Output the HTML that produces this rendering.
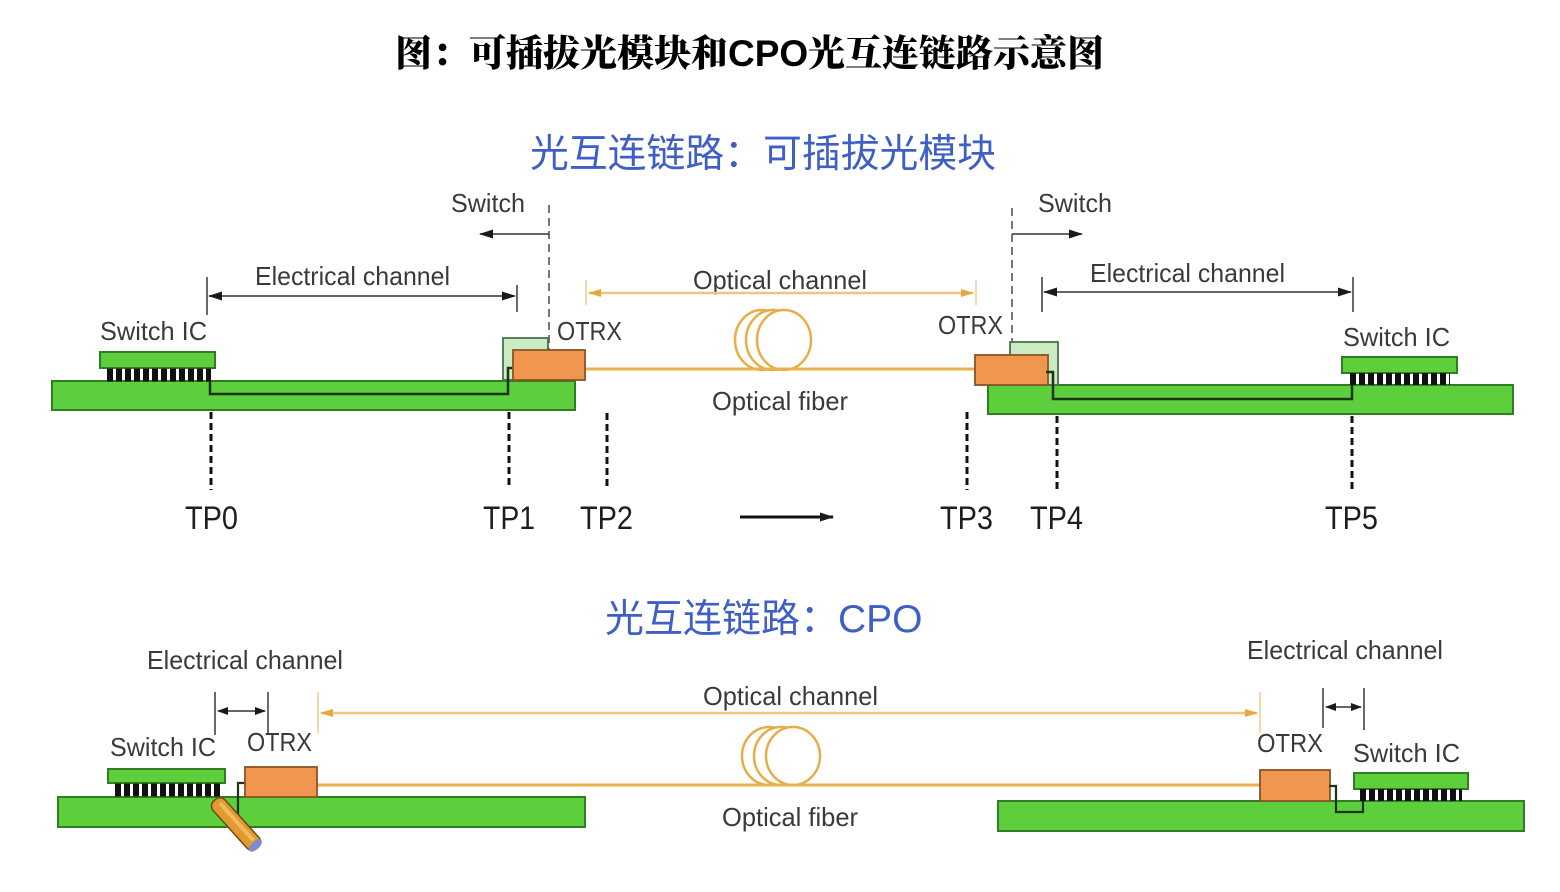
<!DOCTYPE html>
<html><head><meta charset="utf-8">
<style>
html,body{margin:0;padding:0;background:#fff;}
svg{display:block;}
.lbl{font-family:"Liberation Sans",Arial,sans-serif;fill:#3a3a3a;font-size:26px;}
.tp{font-family:"Liberation Sans",Arial,sans-serif;fill:#1e1e1e;font-size:32px;}
.cn{font-family:"Liberation Sans","Noto Sans CJK SC",sans-serif;fill:#3f5fc6;font-size:39px;}
.ttl{font-family:"Liberation Serif","Noto Serif CJK SC",serif;font-weight:900;fill:#000;font-size:37px;}
.ttlc{font-family:"Liberation Sans",sans-serif;font-weight:bold;fill:#000;font-size:37px;}
</style></head>
<body>
<svg width="1560" height="892" viewBox="0 0 1560 892" xmlns="http://www.w3.org/2000/svg">
<defs>
<marker id="ab" markerWidth="14" markerHeight="10" refX="13" refY="5" orient="auto-start-reverse" markerUnits="userSpaceOnUse"><path d="M0,0.5 L14,5 L0,9.5 z" fill="#1a1a1a"/></marker>
<marker id="abs" markerWidth="11" markerHeight="9" refX="10" refY="4.5" orient="auto-start-reverse" markerUnits="userSpaceOnUse"><path d="M0,0.5 L11,4.5 L0,8.5 z" fill="#1a1a1a"/></marker>
<marker id="ao" markerWidth="13" markerHeight="10" refX="12" refY="5" orient="auto-start-reverse" markerUnits="userSpaceOnUse"><path d="M0,1 L13,5 L0,9 z" fill="#eaa83a"/></marker>
</defs>

<!-- Main title -->
<text y="66"><tspan class="ttl" x="395">图：可插拔光模块和</tspan><tspan class="ttlc" x="728">CPO</tspan><tspan class="ttl" x="808">光互连链路示意图</tspan></text>

<!-- Subtitle 1 -->
<text class="cn" x="530" y="167" textLength="466" lengthAdjust="spacingAndGlyphs">光互连链路：可插拔光模块</text>

<!-- ===== TOP DIAGRAM ===== -->
<!-- Switch labels / arrows -->
<text class="lbl" x="451" y="212" textLength="74" lengthAdjust="spacingAndGlyphs">Switch</text>
<text class="lbl" x="1038" y="212" textLength="74" lengthAdjust="spacingAndGlyphs">Switch</text>
<line x1="549" y1="205" x2="549" y2="350" stroke="#555" stroke-width="1.6" stroke-dasharray="8 5"/>
<line x1="1012" y1="208" x2="1012" y2="342" stroke="#555" stroke-width="1.6" stroke-dasharray="8 5"/>
<line x1="549" y1="234" x2="480" y2="234" stroke="#333" stroke-width="1.6" marker-end="url(#ab)"/>
<line x1="1012" y1="234" x2="1082" y2="234" stroke="#333" stroke-width="1.6" marker-end="url(#ab)"/>

<!-- Electrical channel top-left -->
<text class="lbl" x="255" y="285" textLength="195" lengthAdjust="spacingAndGlyphs">Electrical channel</text>
<line x1="207" y1="277" x2="207" y2="315" stroke="#444" stroke-width="1.6"/>
<line x1="517" y1="285" x2="517" y2="312" stroke="#444" stroke-width="1.6"/>
<line x1="209" y1="296" x2="515" y2="296" stroke="#333" stroke-width="1.6" marker-start="url(#ab)" marker-end="url(#ab)"/>

<!-- Electrical channel top-right -->
<text class="lbl" x="1090" y="282" textLength="195" lengthAdjust="spacingAndGlyphs">Electrical channel</text>
<line x1="1042" y1="277" x2="1042" y2="312" stroke="#444" stroke-width="1.6"/>
<line x1="1353" y1="277" x2="1353" y2="312" stroke="#444" stroke-width="1.6"/>
<line x1="1044" y1="292" x2="1351" y2="292" stroke="#333" stroke-width="1.6" marker-start="url(#ab)" marker-end="url(#ab)"/>

<!-- Optical channel top -->
<text class="lbl" x="693" y="289" textLength="174" lengthAdjust="spacingAndGlyphs">Optical channel</text>
<line x1="586" y1="280" x2="586" y2="305" stroke="#f3cf95" stroke-width="1.6"/>
<line x1="976" y1="280" x2="976" y2="305" stroke="#f3cf95" stroke-width="1.6"/>
<line x1="589" y1="293" x2="973" y2="293" stroke="#f2c47a" stroke-width="2.5" marker-start="url(#ao)" marker-end="url(#ao)"/>

<!-- Coil top -->
<ellipse cx="762" cy="340" rx="27" ry="30" fill="#fff" stroke="#e6ae48" stroke-width="2.5"/>
<ellipse cx="773" cy="340" rx="27" ry="30" fill="#fff" stroke="#e6ae48" stroke-width="2.5"/>
<ellipse cx="784" cy="340" rx="27" ry="30" fill="#fff" stroke="#e6ae48" stroke-width="2.5"/>
<line x1="585" y1="369" x2="976" y2="369" stroke="#e9b04c" stroke-width="3"/>
<text class="lbl" x="712" y="410" textLength="136" lengthAdjust="spacingAndGlyphs">Optical fiber</text>

<!-- Left top hardware -->
<text class="lbl" x="100" y="340" textLength="107" lengthAdjust="spacingAndGlyphs">Switch IC</text>
<text class="lbl" x="557" y="340" textLength="65" lengthAdjust="spacingAndGlyphs">OTRX</text>
<rect x="52" y="381" width="523" height="29" fill="#5dcf3c" stroke="#2f7f22" stroke-width="2"/>
<rect x="100" y="352" width="115" height="16" fill="#5dcf3c" stroke="#2f7f22" stroke-width="2"/>
<line x1="107" y1="375" x2="211" y2="375" stroke="#111" stroke-width="13" stroke-dasharray="6 3"/>
<rect x="503" y="338" width="45" height="42" fill="#c9ecc2" stroke="#4e6e4e" stroke-width="1.8"/>
<polyline points="210,381 210,394 508,394 508,368 516,368" fill="none" stroke="#1d3514" stroke-width="2.5"/>
<rect x="513" y="350" width="72" height="30" fill="#f0964f" stroke="#8a5326" stroke-width="1.8"/>

<!-- Right top hardware -->
<text class="lbl" x="938" y="334" textLength="65" lengthAdjust="spacingAndGlyphs">OTRX</text>
<text class="lbl" x="1343" y="346" textLength="107" lengthAdjust="spacingAndGlyphs">Switch IC</text>
<rect x="988" y="385" width="525" height="29" fill="#5dcf3c" stroke="#2f7f22" stroke-width="2"/>
<rect x="1010" y="342" width="48" height="43" fill="#c9ecc2" stroke="#4e6e4e" stroke-width="1.8"/>
<rect x="1342" y="357" width="115" height="16" fill="#5dcf3c" stroke="#2f7f22" stroke-width="2"/>
<line x1="1350" y1="379" x2="1450" y2="379" stroke="#111" stroke-width="12" stroke-dasharray="6 3"/>
<rect x="975" y="355" width="73" height="30" fill="#f0964f" stroke="#8a5326" stroke-width="1.8"/>
<polyline points="1046,372 1053,372 1053,399 1352,399 1352,385" fill="none" stroke="#1d3514" stroke-width="2.5"/>

<!-- TP dashed lines -->
<g stroke="#111" stroke-width="3" stroke-dasharray="7 4">
<line x1="211" y1="412" x2="211" y2="490"/>
<line x1="509" y1="412" x2="509" y2="488"/>
<line x1="607" y1="413" x2="607" y2="490"/>
<line x1="967" y1="412" x2="967" y2="490"/>
<line x1="1057" y1="416" x2="1057" y2="490"/>
<line x1="1352" y1="416" x2="1352" y2="490"/>
</g>
<text class="tp" x="185" y="529" textLength="53" lengthAdjust="spacingAndGlyphs">TP0</text>
<text class="tp" x="483" y="529" textLength="52" lengthAdjust="spacingAndGlyphs">TP1</text>
<text class="tp" x="580" y="529" textLength="53" lengthAdjust="spacingAndGlyphs">TP2</text>
<text class="tp" x="940" y="529" textLength="53" lengthAdjust="spacingAndGlyphs">TP3</text>
<text class="tp" x="1030" y="529" textLength="53" lengthAdjust="spacingAndGlyphs">TP4</text>
<text class="tp" x="1325" y="529" textLength="53" lengthAdjust="spacingAndGlyphs">TP5</text>
<line x1="740" y1="517" x2="833" y2="517" stroke="#111" stroke-width="3" marker-end="url(#ab)"/>

<!-- Subtitle 2 -->
<text y="632"><tspan class="cn" x="605">光互连链路：</tspan><tspan class="cn" x="838" style="font-family:'Liberation Sans',sans-serif">CPO</tspan></text>

<!-- ===== BOTTOM DIAGRAM ===== -->
<text class="lbl" x="147" y="669" textLength="196" lengthAdjust="spacingAndGlyphs">Electrical channel</text>
<text class="lbl" x="1247" y="659" textLength="196" lengthAdjust="spacingAndGlyphs">Electrical channel</text>
<text class="lbl" x="703" y="705" textLength="175" lengthAdjust="spacingAndGlyphs">Optical channel</text>

<line x1="215" y1="692" x2="215" y2="735" stroke="#444" stroke-width="1.6"/>
<line x1="268" y1="692" x2="268" y2="733" stroke="#444" stroke-width="1.6"/>
<line x1="218" y1="711" x2="265" y2="711" stroke="#333" stroke-width="1.6" marker-start="url(#abs)" marker-end="url(#abs)"/>

<line x1="1323" y1="688" x2="1323" y2="728" stroke="#444" stroke-width="1.6"/>
<line x1="1364" y1="688" x2="1364" y2="730" stroke="#444" stroke-width="1.6"/>
<line x1="1326" y1="707" x2="1361" y2="707" stroke="#333" stroke-width="1.6" marker-start="url(#abs)" marker-end="url(#abs)"/>

<line x1="318" y1="692" x2="318" y2="733" stroke="#f3cf95" stroke-width="1.6"/>
<line x1="1260" y1="692" x2="1260" y2="733" stroke="#f3cf95" stroke-width="1.6"/>
<line x1="321" y1="713" x2="1257" y2="713" stroke="#f2c47a" stroke-width="2.5" marker-start="url(#ao)" marker-end="url(#ao)"/>

<!-- Coil bottom -->
<ellipse cx="769" cy="756" rx="27" ry="29" fill="#fff" stroke="#e6ae48" stroke-width="2.5"/>
<ellipse cx="781" cy="756" rx="27" ry="29" fill="#fff" stroke="#e6ae48" stroke-width="2.5"/>
<ellipse cx="793" cy="756" rx="27" ry="29" fill="#fff" stroke="#e6ae48" stroke-width="2.5"/>
<line x1="317" y1="785" x2="1260" y2="785" stroke="#e9b04c" stroke-width="3"/>
<text class="lbl" x="722" y="826" textLength="136" lengthAdjust="spacingAndGlyphs">Optical fiber</text>

<!-- Bottom left hardware -->
<text class="lbl" x="110" y="756" textLength="106" lengthAdjust="spacingAndGlyphs">Switch IC</text>
<text class="lbl" x="247" y="751" textLength="65" lengthAdjust="spacingAndGlyphs">OTRX</text>
<rect x="58" y="797" width="527" height="30" fill="#5dcf3c" stroke="#2f7f22" stroke-width="2"/>
<rect x="108" y="769" width="117" height="14" fill="#5dcf3c" stroke="#2f7f22" stroke-width="2"/>
<line x1="115" y1="790" x2="220" y2="790" stroke="#111" stroke-width="13" stroke-dasharray="6 3"/>
<polyline points="246,783 238,783 238,815" fill="none" stroke="#1d3514" stroke-width="2.2"/>
<rect x="245" y="767" width="72" height="30" fill="#f0964f" stroke="#8a5326" stroke-width="1.8"/>
<g transform="translate(236,824) rotate(48)">
<rect x="-32" y="-8" width="64" height="16" rx="7" fill="#e39a2c" stroke="#6a4a1a" stroke-width="1.5"/>
<rect x="-26" y="-4" width="50" height="4" fill="#f3c070" opacity="0.8"/>
<ellipse cx="29" cy="0" rx="4" ry="8" fill="#7f8ccc"/>
</g>

<!-- Bottom right hardware -->
<text class="lbl" x="1257" y="752" textLength="66" lengthAdjust="spacingAndGlyphs">OTRX</text>
<text class="lbl" x="1353" y="762" textLength="107" lengthAdjust="spacingAndGlyphs">Switch IC</text>
<rect x="998" y="801" width="526" height="30" fill="#5dcf3c" stroke="#2f7f22" stroke-width="2"/>
<rect x="1354" y="773" width="114" height="16" fill="#5dcf3c" stroke="#2f7f22" stroke-width="2"/>
<line x1="1360" y1="795" x2="1462" y2="795" stroke="#111" stroke-width="12" stroke-dasharray="6 3"/>
<rect x="1260" y="770" width="70" height="31" fill="#f0964f" stroke="#8a5326" stroke-width="1.8"/>
<polyline points="1329,786 1336,786 1336,812 1363,812 1363,801" fill="none" stroke="#1d3514" stroke-width="2.2"/>
</svg>
</body></html>
